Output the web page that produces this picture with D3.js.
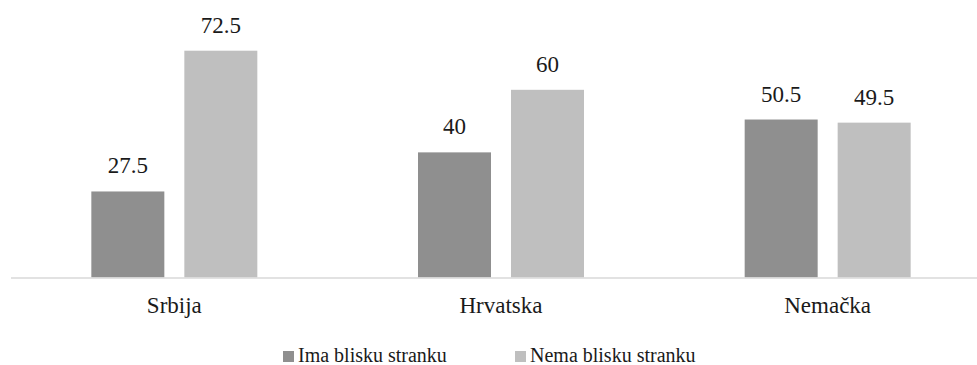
<!DOCTYPE html>
<html>
<head>
<meta charset="utf-8">
<script src="https://cdn.jsdelivr.net/npm/d3@7"></script>
</head>
<body style="margin:0;background:#fff">
<svg id="chart" width="977" height="365"></svg>
<script>
// Countries and share of respondents by party closeness
const categories = ["Srbija", "Hrvatska", "Nemačka"];
const seriesNames = ["Ima blisku stranku", "Nema blisku stranku"];
const imaBlisku = [27.5, 40, 50.5];
const nemaBlisku = [72.5, 60, 49.5];
const seriesColors = ["#8f8f8f", "#bfbfbf"];

const fontName = "Liberation Serif";
const seriesValues = [imaBlisku, nemaBlisku];
const rows = categories.map((c, i) => ({
  category: c,
  values: seriesNames.map((s, j) => ({ series: s, value: seriesValues[j][i] }))
}));

const svg = d3.select("#chart");
const baseline = 277.5;

const x0 = d3.scaleBand().domain(categories).range([11, 991]).paddingInner(0).paddingOuter(0);
const groupWidth = 166;
const x1 = d3.scaleBand().domain(seriesNames).range([0, groupWidth]).paddingInner(0.215).paddingOuter(0);
const y = d3.scaleLinear().domain([0, 72.5]).range([baseline, 50.7]);
const color = d3.scaleOrdinal().domain(seriesNames).range(seriesColors);

// Serif face for every label
function serifText(sel, size) {
  sel.attr("font-family", fontName)
    .attr("font-size", size)
    .style("font-family", fontName, "important")
    .style("font-size", size + "px", "important");
}

const groups = svg.selectAll("g.group")
  .data(rows)
  .join("g")
  .attr("class", "group")
  .attr("transform", d => `translate(${x0(d.category) + (x0.bandwidth() - groupWidth) / 2},0)`);

groups.selectAll("rect")
  .data(d => d.values)
  .join("rect")
  .attr("x", d => x1(d.series))
  .attr("y", d => y(d.value))
  .attr("width", x1.bandwidth())
  .attr("height", d => baseline - y(d.value))
  .attr("fill", d => color(d.series));

groups.selectAll("text.value")
  .data(d => d.values)
  .join("text")
  .attr("class", "value")
  .attr("x", d => x1(d.series) + x1.bandwidth() / 2)
  .attr("y", d => y(d.value) - 18)
  .attr("text-anchor", "middle")
  .attr("fill", "#1a1a1a")
  .text(d => d.value)
  .call(serifText, 23);

// Category axis
const xAxis = svg.append("g")
  .attr("transform", `translate(0,${baseline})`)
  .call(d3.axisBottom(x0).tickSize(0).tickPadding(0));
xAxis.attr("font-family", fontName).attr("font-size", 23);
xAxis.select(".domain").attr("stroke", "#d9d9d9").attr("stroke-width", 1.5)
  .attr("d", "M11,0.5H977");
xAxis.selectAll(".tick text")
  .attr("y", 35.5)
  .attr("dy", 0)
  .attr("fill", "#1a1a1a")
  .call(serifText, 23);

// Legend
const legendX = [283, 515];
const legend = svg.selectAll("g.legend")
  .data(seriesNames)
  .join("g")
  .attr("class", "legend")
  .attr("transform", (d, i) => `translate(${legendX[i]},351)`);
legend.append("rect")
  .attr("width", 11)
  .attr("height", 11)
  .attr("fill", d => color(d));
legend.append("text")
  .attr("x", 15)
  .attr("y", 11)
  .attr("fill", "#1a1a1a")
  .text(d => d)
  .call(serifText, 20);
</script>
</body>
</html>
